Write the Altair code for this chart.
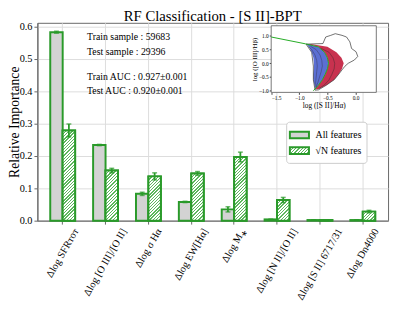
import altair as alt
import pandas as pd

# ---------------- data ----------------
features = ["Δlog SFRᴛᴏᴛ", "Δlog [O III]/[O II]", "Δlog σ Hα", "Δlog EW[Hα]",
            "Δlog M⁎", "Δlog [N II]/[O II]", "Δlog [S II] 6717/31", "Δlog Dn4000"]
series_names = ["All features", "√N features"]
imp_all = [0.583, 0.234, 0.083, 0.058, 0.035, 0.004, 0.002, 0.002]
err_all = [0.003, 0.002, 0.005, 0.002, 0.008, 0.001, 0.0005, 0.0005]
imp_sqrt = [0.279, 0.155, 0.137, 0.146, 0.197, 0.064, 0.002, 0.028]
err_sqrt = [0.020, 0.007, 0.011, 0.006, 0.015, 0.008, 0.001, 0.004]
y_ticks = [0.0, 0.1, 0.2, 0.3, 0.4, 0.5, 0.6]

title_text = "RF Classification - [S II]-BPT"
annotations = ["Train sample : 59683", "Test sample : 29396",
               "Train AUC : 0.927±0.001", "Test AUC : 0.920±0.001"]

# inset (BPT diagram)
inset_xdomain = [-1.5, 0.37]
inset_ydomain = [-1.06, 1.37]
inset_xticks = [-1.5, -1.0, -0.5, 0.0]
inset_yticks = [-1.0, -0.5, 0.0, 0.5, 1.0]
reg_y = [0.70, 0.6, 0.4, 0.2, 0.0, -0.2, -0.4, -0.6, -0.8, -0.95]
blue_left = [-0.88, -0.83, -0.78, -0.75, -0.74, -0.74, -0.75, -0.75, -0.73, -0.71]
green_mid = [-0.86, -0.66, -0.55, -0.50, -0.48, -0.50, -0.54, -0.59, -0.66, -0.72]
red_right = [-0.80, -0.50, -0.34, -0.25, -0.21, -0.24, -0.30, -0.38, -0.52, -0.66]
line_x = [-1.5, -0.89, -0.75, -0.66, -0.55, -0.50, -0.48, -0.50, -0.54, -0.59, -0.66, -0.75]
line_y = [0.96, 0.71, 0.64, 0.60, 0.40, 0.20, 0.00, -0.20, -0.40, -0.60, -0.80, -1.00]
outline_x = [-0.88, -0.58, -0.53, -0.44, -0.36, -0.24, -0.16, -0.10, -0.07, 0.01, 0.04,
             -0.02, -0.13, -0.19, -0.24, -0.30, -0.38, -0.52, -0.66, -0.72, -0.75, -0.75, -0.78, -0.88]
outline_y = [0.70, 0.72, 0.96, 1.02, 1.08, 1.02, 0.96, 0.78, 0.54, 0.42, 0.25,
             0.12, 0.00, -0.11, -0.24, -0.40, -0.60, -0.80, -0.97, -0.98, -0.60, -0.10, 0.40, 0.70]
c1_x = [-0.84, -0.78, -0.72, -0.69, -0.68, -0.69, -0.70, -0.71, -0.70]
c1_y = [0.62, 0.50, 0.30, 0.10, -0.10, -0.30, -0.50, -0.70, -0.88]
c2_x = [-0.80, -0.70, -0.63, -0.60, -0.59, -0.61, -0.64, -0.67, -0.70]
c2_y = [0.62, 0.50, 0.30, 0.10, -0.10, -0.30, -0.50, -0.70, -0.88]
c3_x = [-0.62, -0.47, -0.40, -0.37, -0.38, -0.42, -0.47, -0.56, -0.65]
c3_y = [0.55, 0.40, 0.20, 0.00, -0.20, -0.40, -0.60, -0.80, -0.92]

# ---------------- layout / style ----------------
SERIF = "Liberation Serif"
GREEN = "#2a9a2a"
HATCH = "#5cb85c"
GREY = "#d3d3d3"
AX = "#666666"
PAD_L, PAD_T = 30, 12
W, H = 358, 202
YMAX = 0.612
P_IN, P_OUT = 0.42, 0.30
IX0, IX1, IY0, IY1 = 238.7, 346.0, 3.0, 71.0

step = W / (len(features) - P_IN + 2 * P_OUT)
bar_w = step * (1 - P_IN) / 2

CW = {'Δ': .61, 'l': .278, 'o': .5, 'g': .5, ' ': .25, 'S': .556, 'F': .556, 'R': .667,
      'ᴛ': .45, 'ᴏ': .5, '[': .333, ']': .333, 'O': .722, 'I': .333, '/': .278, 'σ': .55,
      'H': .722, 'α': .55, 'E': .611, 'W': .944, 'M': .889, '⁎': .5, 'N': .722, 'D': .722,
      'n': .5}
LABEL_FS = 10.5


def text_w(s, fs):
    return sum(CW.get(c, 0.5) for c in s) * fs


offsets = [round(text_w(f, LABEL_FS) / 4, 1) for f in features]
names_js = "[" + ",".join("'" + f + "'" for f in features) + "]"
offs_js = "[" + ",".join(str(o) for o in offsets) + "]"
label_offset_expr = f"{offs_js}[indexof({names_js}, datum.value)]"


def hatch_stops(w, h, period=3.3, frac=0.42):
    n = max(1, round((w + h) / period))
    k = (w + h) / (w * w + h * h)
    stops = []
    for i in range(n):
        a, b, c = i / n, (i + frac) / n, (i + 1) / n
        stops += [(a, HATCH), (b, HATCH), (b, "white"), (c, "white")]
    return k * w, k * h, stops


def hatch_gradient(w, h):
    x2, y2, stops = hatch_stops(w, h)
    return alt.LinearGradient(
        gradient="linear", x1=0, y1=0, x2=x2, y2=y2,
        stops=[alt.GradientStop(offset=round(o, 4), color=c) for o, c in stops])


def hatch_expr(w, h):
    x2, y2, stops = hatch_stops(w, h)
    st = ",".join("{offset:%s,color:'%s'}" % (round(o, 4), c) for o, c in stops)
    return "{gradient:'linear',x1:0,y1:0,x2:%s,y2:%s,stops:[%s]}" % (round(x2, 4), round(y2, 4), st)


rows = []
for f, va, ea, vs, es in zip(features, imp_all, err_all, imp_sqrt, err_sqrt):
    rows.append({"feature": f, "series": series_names[0], "value": va, "lo": va - ea, "hi": va + ea})
    rows.append({"feature": f, "series": series_names[1], "value": vs, "lo": vs - es, "hi": vs + es})
df = pd.DataFrame(rows)

x_axis = alt.Axis(title=None, labelAngle=300, labelAlign="right", labelBaseline="middle",
                  labelFont=SERIF, labelFontSize=LABEL_FS, labelColor="black",
                  labelOverlap=False, labelBound=False, labelPadding=5,
                  labelOffset=alt.ExprRef(expr=label_offset_expr),
                  tickSize=3.5, tickColor=AX, domainColor=AX, grid=True,
                  gridColor="#dcdcdc", gridWidth=1, bandPosition=0.5)
y_axis = alt.Axis(values=y_ticks, format=".1f", title="Relative Importance",
                  titleFont=SERIF, titleFontSize=14, titleFontWeight="normal",
                  titleColor="black", titleX=-19, titleBaseline="alphabetic",
                  labelFont=SERIF, labelFontSize=10.5, labelColor="black",
                  tickSize=3.5, tickColor=AX, domainColor=AX, grid=True,
                  gridColor="#dcdcdc", gridWidth=1, labelPadding=2)

x_enc = alt.X("feature:N", sort=features,
              scale=alt.Scale(domain=features, paddingInner=P_IN, paddingOuter=P_OUT),
              axis=x_axis)
xo_enc = alt.XOffset("series:N", sort=series_names,
                     scale=alt.Scale(domain=series_names, paddingInner=0, paddingOuter=0))
y_scale = alt.Scale(domain=[0, YMAX], nice=False, zero=True)
y_enc = alt.Y("value:Q", scale=y_scale, axis=y_axis)

legend_sym_w, legend_sym_h = 19.5, 6.75
legend = alt.Legend(
    title=None, orient="none", legendX=254, legendY=101,
    labelFont=SERIF, labelFontSize=10, labelColor="black",
    symbolType="M-1.3,-0.45H1.3V0.45H-1.3Z", symbolSize=225,
    symbolStrokeColor=GREEN, symbolStrokeWidth=2, labelOffset=8,
    padding=5, rowPadding=0, strokeColor="#cccccc", fillColor="white", cornerRadius=3)

bars = alt.Chart(df).mark_bar(stroke=GREEN, strokeWidth=2).encode(
    x=x_enc, xOffset=xo_enc, y=y_enc,
    fill=alt.Fill("series:N",
                  scale=alt.Scale(domain=series_names,
                                  range=[GREY, alt.ExprRef(expr=hatch_expr(legend_sym_w, legend_sym_h))]),
                  legend=legend))

hatch_layers = []
for f, v in zip(features, imp_sqrt):
    h = v / YMAX * H
    sub = df[(df.feature == f) & (df.series == series_names[1])]
    hatch_layers.append(
        alt.Chart(sub).mark_bar(fill=hatch_gradient(bar_w, h), stroke=GREEN, strokeWidth=2)
        .encode(x=x_enc, xOffset=xo_enc, y=y_enc))

err_rule = alt.Chart(df).mark_rule(color=GREEN, strokeWidth=1.8).encode(
    x=x_enc, xOffset=xo_enc, y=alt.Y("lo:Q", scale=y_scale, axis=y_axis), y2="hi:Q")
err_lo = alt.Chart(df).mark_tick(color=GREEN, size=5, thickness=1.5, orient="horizontal").encode(
    x=x_enc, xOffset=xo_enc, y=alt.Y("lo:Q", scale=y_scale, axis=y_axis))
err_hi = alt.Chart(df).mark_tick(color=GREEN, size=5, thickness=1.5, orient="horizontal").encode(
    x=x_enc, xOffset=xo_enc, y=alt.Y("hi:Q", scale=y_scale, axis=y_axis))

ann_y = [14.5, 29.5, 55.0, 69.5]
texts = []
for t, yy in zip(annotations, ann_y):
    texts.append(alt.Chart(pd.DataFrame({"t": [t]})).mark_text(
        font=SERIF, fontSize=10, color="black", align="left", baseline="middle")
        .encode(text="t:N", x=alt.value(50.7), y=alt.value(yy)))

title_mark = alt.Chart(pd.DataFrame({"t": [title_text]})).mark_text(
    font=SERIF, fontSize=15, color="black", align="center", baseline="alphabetic").encode(
    text="t:N", x=alt.value(W / 2), y=alt.value(-1.5))

main = alt.layer(bars, *hatch_layers, err_rule, err_lo, err_hi, *texts, title_mark)

# ---------------- inset ----------------
sx = alt.Scale(domain=inset_xdomain, range=[IX0, IX1], nice=False, zero=False)
sy = alt.Scale(domain=inset_ydomain, range=[IY1, IY0], nice=False, zero=False)
iax = alt.Axis(orient="bottom", offset=IY1 - H, values=inset_xticks, format=".1f",
               labelFont=SERIF, labelFontSize=5.5, labelColor="black", labelPadding=1,
               tickSize=2, tickColor="#444", domain=False, grid=False,
               title="log ([S II]/Hα)", titleFont=SERIF, titleFontSize=7.5,
               titleFontWeight="normal", titleColor="black", titlePadding=1)
iay = alt.Axis(orient="left", offset=-IX0, values=inset_yticks, format=".1f",
               labelFont=SERIF, labelFontSize=5.5, labelColor="black", labelPadding=1,
               tickSize=2, tickColor="#444", domain=False, grid=False,
               title="log ([O III]/Hβ)", titleFont=SERIF, titleFontSize=7,
               titleFontWeight="normal", titleColor="black", titlePadding=1)

box_df = pd.DataFrame({"x0": [inset_xdomain[0]], "x1": [inset_xdomain[1]],
                       "y0": [inset_ydomain[0]], "y1": [inset_ydomain[1]]})
box = alt.Chart(box_df).mark_rect(fill="white", stroke="#555555", strokeWidth=0.8).encode(
    x=alt.X("x0:Q", scale=sx, axis=iax), x2="x1:Q",
    y=alt.Y("y0:Q", scale=sy, axis=iay), y2="y1:Q")

reg_df = pd.DataFrame({"iy": reg_y, "bl": blue_left, "gm": green_mid, "rr": red_right})
blue = alt.Chart(reg_df).mark_area(orient="horizontal", color="#5b6fd3").encode(
    y=alt.Y("iy:Q", scale=sy, axis=iay), x=alt.X("bl:Q", scale=sx, axis=iax), x2="gm:Q")
red = alt.Chart(reg_df).mark_area(orient="horizontal", color="#c8324f").encode(
    y=alt.Y("iy:Q", scale=sy, axis=iay), x=alt.X("gm:Q", scale=sx, axis=iax), x2="rr:Q")


def path_layer(xs, ys, color, width):
    d = pd.DataFrame({"px": xs, "py": ys, "k": list(range(len(xs)))})
    return alt.Chart(d).mark_line(color=color, strokeWidth=width).encode(
        x=alt.X("px:Q", scale=sx, axis=iax), y=alt.Y("py:Q", scale=sy, axis=iay),
        order="k:Q")


inset = alt.layer(
    box, blue, red,
    path_layer(c1_x, c1_y, "#3a3a5a", 0.5),
    path_layer(c2_x, c2_y, "#3a3a5a", 0.5),
    path_layer(c3_x, c3_y, "#4a2a30", 0.5),
    path_layer(outline_x, outline_y, "#333333", 0.7),
    path_layer(line_x, line_y, "#22aa22", 1.0),
)

chart = alt.layer(main, inset).resolve_scale(x="independent", y="independent").properties(
    width=W, height=H,
    padding={"left": PAD_L, "top": PAD_T, "right": 3, "bottom": 85},
    autosize=alt.AutoSizeParams(type="none"),
).configure_view(stroke=AX, strokeWidth=1)

chart.save("out.html", embed_options={"renderer": "svg", "actions": False})
